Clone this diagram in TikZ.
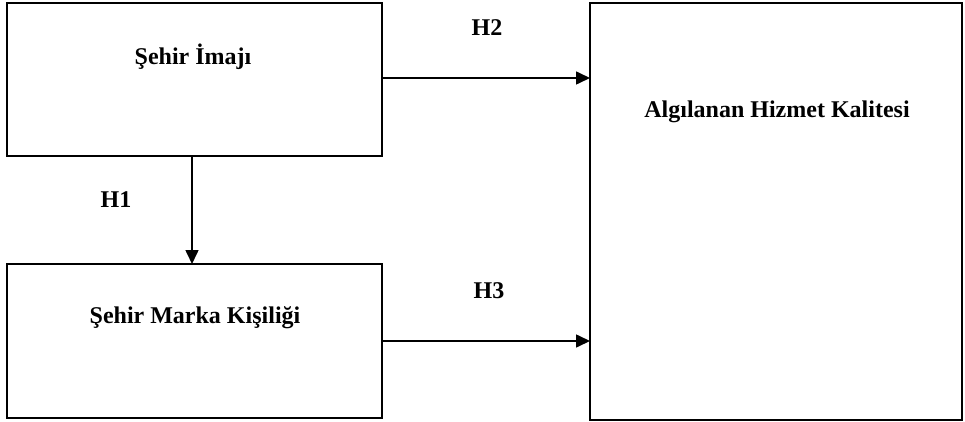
\documentclass[tikz,border=0pt]{standalone}
\usepackage{fontspec}
\setmainfont{Liberation Serif}
\usetikzlibrary{arrows.meta}
\begin{document}
\begin{tikzpicture}[x=1pt,y=-1pt,
  box/.style={draw=black,line width=1.8pt,rectangle,inner sep=0pt,outer sep=0pt},
  lbl/.style={font=\fontsize{24}{28}\selectfont\bfseries,inner sep=0pt},
  arr/.style={line width=1.6pt,-{Triangle[length=14pt,width=13pt]}}]
\useasboundingbox (0,0) rectangle (965,422);
\node[box,minimum width=375pt,minimum height=153pt] (a) at (194.5,79.5) {};
\node[box,minimum width=375pt,minimum height=154pt] (b) at (194.5,341) {};
\node[box,minimum width=372pt,minimum height=417pt] (c) at (776,211.5) {};
\node[lbl] (ta) at (193,57) {Şehir İmajı};
\node[lbl] (tb) at (195,318) {Şehir Marka Kişiliği};
\node[lbl] (tc) at (777,112) {Algılanan Hizmet Kalitesi};
\node[lbl] (h1) at (116,200) {H1};
\node[lbl] (h2) at (487,28) {H2};
\node[lbl] (h3) at (489,291) {H3};
\draw[arr] ([xshift=-2.5pt]a.south) -- ([xshift=-2.5pt]b.north);
\draw[arr] (a.east |- 0,78) -- (c.west |- 0,78);
\draw[arr] (b.east) -- (b.east -| c.west);
\end{tikzpicture}
\end{document}
